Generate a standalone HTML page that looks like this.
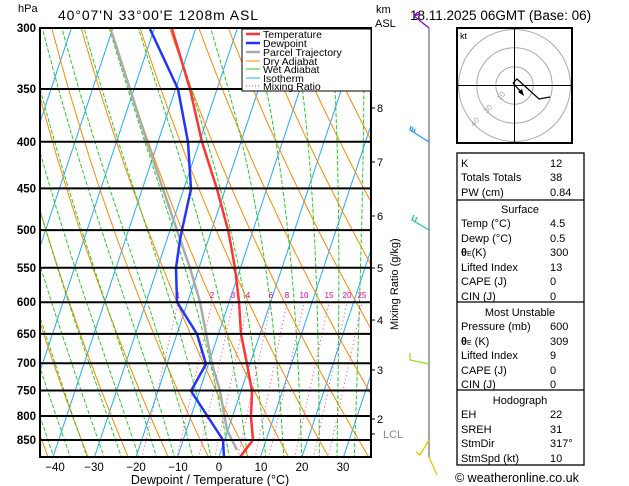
<!DOCTYPE html>
<html><head><meta charset="utf-8">
<style>
body{margin:0;background:#fff;width:629px;height:486px;overflow:hidden;font-family:"Liberation Sans",sans-serif;}
svg{position:absolute;left:0;top:0}
text{font-family:"Liberation Sans",sans-serif}
</style></head><body>
<svg id="s" width="629" height="486" viewBox="0 0 629 486" xmlns="http://www.w3.org/2000/svg">
<defs><clipPath id="c"><rect x="40" y="28" width="331" height="429"/></clipPath></defs>
<g id="bg" clip-path="url(#c)"></g>
<g id="fg"></g>
<text x="18" y="12" font-size="11">hPa</text>
<text x="58" y="20" font-size="14" textLength="200" lengthAdjust="spacing">40°07'N  33°00'E  1208m  ASL</text>
<text x="410" y="20" font-size="13.5">18.11.2025  06GMT  (Base: 06)</text>
<text x="376" y="13" font-size="11">km</text>
<text x="375" y="27" font-size="11">ASL</text>
<g font-size="11"><text x="377" y="112">8</text><text x="377" y="166">7</text><text x="377" y="220">6</text><text x="377" y="272">5</text><text x="377" y="324">4</text><text x="377" y="374">3</text><text x="377" y="423">2</text><text x="383" y="438" fill="#888">LCL</text></g>
<text transform="translate(398,330) rotate(-90)" font-size="11">Mixing Ratio (g/kg)</text>
<g font-size="11.5" text-anchor="middle"><text x="55" y="471">−40</text><text x="94" y="471">−30</text><text x="136" y="471">−20</text><text x="178" y="471">−10</text><text x="219" y="471">0</text><text x="261" y="471">10</text><text x="302" y="471">20</text><text x="343" y="471">30</text></g>
<text x="210" y="484" font-size="12.5" text-anchor="middle">Dewpoint / Temperature (°C)</text>
<!-- legend -->
<rect x="242" y="29" width="129" height="62" fill="#fff" stroke="#000" stroke-width="1"/>
<g font-size="10.5">
<line x1="246" y1="34" x2="260" y2="34" stroke="#f33" stroke-width="2.5"/><text x="263" y="38">Temperature</text>
<line x1="246" y1="43" x2="260" y2="43" stroke="#23f" stroke-width="2.5"/><text x="263" y="47">Dewpoint</text>
<line x1="246" y1="52" x2="260" y2="52" stroke="#aaa" stroke-width="2.5"/><text x="263" y="56">Parcel Trajectory</text>
<line x1="246" y1="61" x2="260" y2="61" stroke="#f80" stroke-width="1"/><text x="263" y="65">Dry Adiabat</text>
<line x1="246" y1="69" x2="260" y2="69" stroke="#2c2" stroke-width="1"/><text x="263" y="73">Wet Adiabat</text>
<line x1="246" y1="78" x2="260" y2="78" stroke="#2af" stroke-width="1"/><text x="263" y="82">Isotherm</text>
<line x1="246" y1="86" x2="260" y2="86" stroke="#f3a" stroke-width="1" stroke-dasharray="1,2"/><text x="263" y="90">Mixing Ratio</text>
</g>
<!-- wind barbs -->
<line x1="429" y1="28" x2="429" y2="457" stroke="#888" stroke-width="1.5"/>
<g fill="none" stroke-width="1.3">
<polyline points="429,28 414,16 418,12" stroke="#80c"/><line x1="414" y1="16" x2="420" y2="14" stroke="#80c"/>
<polyline points="429,142 410,130 411,126" stroke="#29f"/><line x1="412" y1="131" x2="413" y2="127" stroke="#29f"/><line x1="414" y1="133" x2="415" y2="129" stroke="#29f"/>
<polyline points="429,230 412,220 414,215" stroke="#2c9"/><line x1="415" y1="222" x2="417" y2="217" stroke="#2c9"/>
<polyline points="429,364 410,360 410,353" stroke="#9d2"/>
<polyline points="429,440 420,455 416,452" stroke="#dc0"/>
<polyline points="429,457 437,475" stroke="#dc0"/>
</g>
<!-- hodograph -->
<rect x="457" y="28" width="115" height="115" fill="none" stroke="#000" stroke-width="2"/>
<g fill="none" stroke="#aaa"><circle cx="514.5" cy="85.5" r="18.7"/><circle cx="514.5" cy="85.5" r="37.7"/><circle cx="514.5" cy="85.5" r="56"/></g>
<line x1="457" y1="85.5" x2="572" y2="85.5" stroke="#000"/><line x1="514.5" y1="28" x2="514.5" y2="143" stroke="#000"/>
<text x="460" y="39" font-size="9">kt</text>
<g font-size="8" fill="#aaa"><text transform="translate(500,101) rotate(-50)">10</text><text transform="translate(487,114) rotate(-50)">30</text><text transform="translate(474,127) rotate(-50)">40</text></g>
<polyline points="513,83 517,79 539,99 550,97" fill="none" stroke="#000" stroke-width="1.2"/>
<line x1="513" y1="83" x2="522" y2="93" stroke="#000" stroke-width="1.3"/><polygon points="524,96 518,92 522,89" fill="#000"/>
<!-- table -->
<g fill="none" stroke="#000" stroke-width="1.3"><rect x="457" y="153" width="127" height="312"/><line x1="457" y1="200" x2="584" y2="200"/><line x1="457" y1="302" x2="584" y2="302"/><line x1="457" y1="390" x2="584" y2="390"/></g>
<g font-size="11">
<text x="461" y="167">K</text><text x="550" y="167">12</text>
<text x="461" y="181">Totals Totals</text><text x="550" y="181">38</text>
<text x="461" y="196">PW (cm)</text><text x="550" y="196">0.84</text>
<text x="520" y="213" text-anchor="middle">Surface</text>
<text x="461" y="227">Temp (°C)</text><text x="550" y="227">4.5</text>
<text x="461" y="242">Dewp (°C)</text><text x="550" y="242">0.5</text>
<text x="461" y="256"><tspan font-weight="bold">θ</tspan><tspan font-size="7">E</tspan>(K)</text><text x="550" y="256">300</text>
<text x="461" y="271">Lifted Index</text><text x="550" y="271">13</text>
<text x="461" y="285">CAPE (J)</text><text x="550" y="285">0</text>
<text x="461" y="300">CIN (J)</text><text x="550" y="300">0</text>
<text x="520" y="316" text-anchor="middle">Most Unstable</text>
<text x="461" y="330">Pressure (mb)</text><text x="550" y="330">600</text>
<text x="461" y="345"><tspan font-weight="bold">θ</tspan><tspan font-size="7">E</tspan> (K)</text><text x="550" y="345">309</text>
<text x="461" y="359">Lifted Index</text><text x="550" y="359">9</text>
<text x="461" y="374">CAPE (J)</text><text x="550" y="374">0</text>
<text x="461" y="388">CIN (J)</text><text x="550" y="388">0</text>
<text x="520" y="404" text-anchor="middle">Hodograph</text>
<text x="461" y="418">EH</text><text x="550" y="418">22</text>
<text x="461" y="433">SREH</text><text x="550" y="433">31</text>
<text x="461" y="447">StmDir</text><text x="550" y="447">317°</text>
<text x="461" y="462">StmSpd (kt)</text><text x="550" y="462">10</text>
</g>
<text x="455" y="482" font-size="12.5">© weatheronline.co.uk</text>
</svg>
<script>
var NS="http://www.w3.org/2000/svg";
var bg=document.getElementById('bg'),fg=document.getElementById('fg');
function Y(p){return 28+395.6*Math.log(p/300);}
function X(T,p){return 219+4.15*T+0.333*(457-Y(p));}
function pl(g,pts,st,w,da){var e=document.createElementNS(NS,'polyline');e.setAttribute('points',pts.map(function(a){return a[0].toFixed(1)+','+a[1].toFixed(1)}).join(' '));e.setAttribute('fill','none');e.setAttribute('stroke',st);e.setAttribute('stroke-width',w);if(da)e.setAttribute('stroke-dasharray',da);g.appendChild(e);}
function tx(g,x,y,s,sz,fill,anc,bold){var e=document.createElementNS(NS,'text');e.setAttribute('x',x);e.setAttribute('y',y);e.setAttribute('font-size',sz);if(fill)e.setAttribute('fill',fill);if(anc)e.setAttribute('text-anchor',anc);if(bold)e.setAttribute('font-weight','bold');e.textContent=s;g.appendChild(e);}
var P=[];for(var p=890;p>=295;p-=5)P.push(p);
for(var T=-120;T<=50;T+=10){pl(bg,[[X(T,890),Y(890)],[X(T,295),Y(295)]],'#2af',1);}
for(var th=220;th<=500;th+=10){pl(bg,P.map(function(p){return [X(th*Math.pow(p/1000,0.286)-273.15,p),Y(p)];}),'#f80',1);}
function es(T){return 6.112*Math.exp(17.67*T/(T+243.5));}
for(var tw=-32;tw<=40;tw+=4){var T=tw,pts=[];for(var p=1000;p>=295;p-=2){if(p<=892)pts.push([X(T,p),Y(p)]);var TK=T+273.15,rs=0.622*es(T)/(p-es(T));var dT=(287*TK+2.5e6*rs)/(1004+2.5e6*2.5e6*rs*0.622/(287*TK*TK))/p;T-=dT*2;}pl(bg,pts,'#2c2',1,'4,2');}
var ws=[1,2,3,4,6,8,10,15,20,25];
var lx=[178,212,233,248,271,287,304,329,347,362];
ws.forEach(function(w,i){var pts=[];var top=null;for(var p=890;p>=600;p-=5){var e=w*p/(622+w),l=Math.log(e/6.112);var Td=243.5*l/(17.67-l);pts.push([X(Td,p),Y(p)]);}
var dx=lx[i]-pts[pts.length-1][0];pts=pts.map(function(a,j){return [a[0]+dx*j/(pts.length-1),a[1]];});
pl(bg,pts,'#f3a',1,'1,3');tx(bg,lx[i],298,''+w,8,'#e08','middle');});
[300,350,400,450,500,550,600,650,700,750,800,850].forEach(function(p){pl(fg,[[40,Y(p)],[371,Y(p)]],'#000',2);tx(fg,36,Y(p)+4,''+p,11.5,'#000','end',true);});
var r=document.createElementNS(NS,'rect');r.setAttribute('x',40);r.setAttribute('y',28);r.setAttribute('width',331);r.setAttribute('height',429);r.setAttribute('fill','none');r.setAttribute('stroke','#000');r.setAttribute('stroke-width',2);fg.appendChild(r);
[108,162,216,268,320,370,419,434].forEach(function(y){pl(fg,[[371,y],[375,y]],'#000',1);});
pl(bg,[[112,33],[147,142],[180,239],[190,268],[200,302],[212,364],[220,391],[227,430],[237,450]],'#aaa',2.5);
pl(bg,[[150,29],[178,89],[188,142],[191,189],[182,230],[180,240],[176,268],[177,302],[197,334],[206,364],[191,391],[208,417],[223,440],[224,457]],'#23f',2.5);
pl(bg,[[172,29],[190,89],[202,142],[217,189],[228,230],[230,240],[235,268],[239,302],[241,334],[247,364],[252,391],[251,417],[253,440],[240,457]],'#f33',2.5);
</script>
</body></html>
